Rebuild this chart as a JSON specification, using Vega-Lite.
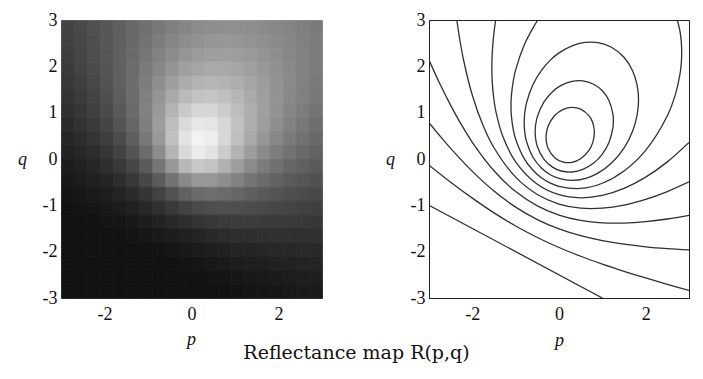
{
 "$schema": "https://vega.github.io/schema/vega-lite/v6.json",
 "padding": {"left": 17, "top": 10, "right": 5, "bottom": 5},
 "background": "white",
 "bounds": "flush",
 "spacing": 107,
 "title": {"text": "Reflectance map R(p,q)", "orient": "bottom", "anchor": "middle", "dx": 3, "offset": -6, "font": "DejaVu Serif", "fontSize": 19, "fontWeight": "normal", "color": "#111"},
 "config": {
  "view": {"stroke": "#222", "strokeWidth": 1},
  "axis": {"labelFont": "Liberation Serif", "labelFontSize": 18, "labelColor": "#111", "titleFont": "Liberation Serif", "titleFontStyle": "italic", "titleFontWeight": "normal", "titleFontSize": 18, "titleColor": "#111", "domainColor": "#222", "grid": false}
 },
 "datasets": {
  "refl": [
{"p":-2.85,"q":2.85,"r":0.345},{"p":-2.55,"q":2.85,"r":0.377},{"p":-2.25,"q":2.85,"r":0.41},{"p":-1.95,"q":2.85,"r":0.444},{"p":-1.65,"q":2.85,"r":0.48},{"p":-1.35,"q":2.85,"r":0.516},{"p":-1.05,"q":2.85,"r":0.551},{"p":-0.75,"q":2.85,"r":0.584},{"p":-0.45,"q":2.85,"r":0.613},{"p":-0.15,"q":2.85,"r":0.637},{"p":0.15,"q":2.85,"r":0.655},{"p":0.45,"q":2.85,"r":0.667},{"p":0.75,"q":2.85,"r":0.672},{"p":1.05,"q":2.85,"r":0.671},{"p":1.35,"q":2.85,"r":0.665},{"p":1.65,"q":2.85,"r":0.655},{"p":1.95,"q":2.85,"r":0.642},{"p":2.25,"q":2.85,"r":0.628},{"p":2.55,"q":2.85,"r":0.612},{"p":2.85,"q":2.85,"r":0.596},
{"p":-2.85,"q":2.55,"r":0.335},{"p":-2.55,"q":2.55,"r":0.368},{"p":-2.25,"q":2.55,"r":0.404},{"p":-1.95,"q":2.55,"r":0.443},{"p":-1.65,"q":2.55,"r":0.482},{"p":-1.35,"q":2.55,"r":0.523},{"p":-1.05,"q":2.55,"r":0.563},{"p":-0.75,"q":2.55,"r":0.601},{"p":-0.45,"q":2.55,"r":0.635},{"p":-0.15,"q":2.55,"r":0.662},{"p":0.15,"q":2.55,"r":0.682},{"p":0.45,"q":2.55,"r":0.694},{"p":0.75,"q":2.55,"r":0.698},{"p":1.05,"q":2.55,"r":0.694},{"p":1.35,"q":2.55,"r":0.685},{"p":1.65,"q":2.55,"r":0.671},{"p":1.95,"q":2.55,"r":0.654},{"p":2.25,"q":2.55,"r":0.636},{"p":2.55,"q":2.55,"r":0.617},{"p":2.85,"q":2.55,"r":0.598},
{"p":-2.85,"q":2.25,"r":0.322},{"p":-2.55,"q":2.25,"r":0.358},{"p":-2.25,"q":2.25,"r":0.397},{"p":-1.95,"q":2.25,"r":0.439},{"p":-1.65,"q":2.25,"r":0.484},{"p":-1.35,"q":2.25,"r":0.53},{"p":-1.05,"q":2.25,"r":0.576},{"p":-0.75,"q":2.25,"r":0.621},{"p":-0.45,"q":2.25,"r":0.66},{"p":-0.15,"q":2.25,"r":0.692},{"p":0.15,"q":2.25,"r":0.714},{"p":0.45,"q":2.25,"r":0.726},{"p":0.75,"q":2.25,"r":0.727},{"p":1.05,"q":2.25,"r":0.72},{"p":1.35,"q":2.25,"r":0.705},{"p":1.65,"q":2.25,"r":0.687},{"p":1.95,"q":2.25,"r":0.666},{"p":2.25,"q":2.25,"r":0.643},{"p":2.55,"q":2.25,"r":0.621},{"p":2.85,"q":2.25,"r":0.599},
{"p":-2.85,"q":1.95,"r":0.307},{"p":-2.55,"q":1.95,"r":0.345},{"p":-2.25,"q":1.95,"r":0.387},{"p":-1.95,"q":1.95,"r":0.433},{"p":-1.65,"q":1.95,"r":0.483},{"p":-1.35,"q":1.95,"r":0.536},{"p":-1.05,"q":1.95,"r":0.59},{"p":-0.75,"q":1.95,"r":0.642},{"p":-0.45,"q":1.95,"r":0.69},{"p":-0.15,"q":1.95,"r":0.727},{"p":0.15,"q":1.95,"r":0.752},{"p":0.45,"q":1.95,"r":0.763},{"p":0.75,"q":1.95,"r":0.761},{"p":1.05,"q":1.95,"r":0.748},{"p":1.35,"q":1.95,"r":0.727},{"p":1.65,"q":1.95,"r":0.702},{"p":1.95,"q":1.95,"r":0.675},{"p":2.25,"q":1.95,"r":0.648},{"p":2.55,"q":1.95,"r":0.622},{"p":2.85,"q":1.95,"r":0.597},
{"p":-2.85,"q":1.65,"r":0.289},{"p":-2.55,"q":1.65,"r":0.328},{"p":-2.25,"q":1.65,"r":0.373},{"p":-1.95,"q":1.65,"r":0.423},{"p":-1.65,"q":1.65,"r":0.478},{"p":-1.35,"q":1.65,"r":0.539},{"p":-1.05,"q":1.65,"r":0.603},{"p":-0.75,"q":1.65,"r":0.666},{"p":-0.45,"q":1.65,"r":0.723},{"p":-0.15,"q":1.65,"r":0.769},{"p":0.15,"q":1.65,"r":0.797},{"p":0.45,"q":1.65,"r":0.806},{"p":0.75,"q":1.65,"r":0.798},{"p":1.05,"q":1.65,"r":0.777},{"p":1.35,"q":1.65,"r":0.748},{"p":1.65,"q":1.65,"r":0.716},{"p":1.95,"q":1.65,"r":0.682},{"p":2.25,"q":1.65,"r":0.65},{"p":2.55,"q":1.65,"r":0.62},{"p":2.85,"q":1.65,"r":0.591},
{"p":-2.85,"q":1.35,"r":0.268},{"p":-2.55,"q":1.35,"r":0.308},{"p":-2.25,"q":1.35,"r":0.354},{"p":-1.95,"q":1.35,"r":0.408},{"p":-1.65,"q":1.35,"r":0.469},{"p":-1.35,"q":1.35,"r":0.538},{"p":-1.05,"q":1.35,"r":0.613},{"p":-0.75,"q":1.35,"r":0.69},{"p":-0.45,"q":1.35,"r":0.761},{"p":-0.15,"q":1.35,"r":0.817},{"p":0.15,"q":1.35,"r":0.85},{"p":0.45,"q":1.35,"r":0.856},{"p":0.75,"q":1.35,"r":0.839},{"p":1.05,"q":1.35,"r":0.806},{"p":1.35,"q":1.35,"r":0.767},{"p":1.65,"q":1.35,"r":0.725},{"p":1.95,"q":1.35,"r":0.685},{"p":2.25,"q":1.35,"r":0.647},{"p":2.55,"q":1.35,"r":0.613},{"p":2.85,"q":1.35,"r":0.582},
{"p":-2.85,"q":1.05,"r":0.243},{"p":-2.55,"q":1.05,"r":0.283},{"p":-2.25,"q":1.05,"r":0.331},{"p":-1.95,"q":1.05,"r":0.387},{"p":-1.65,"q":1.05,"r":0.453},{"p":-1.35,"q":1.05,"r":0.53},{"p":-1.05,"q":1.05,"r":0.617},{"p":-0.75,"q":1.05,"r":0.71},{"p":-0.45,"q":1.05,"r":0.8},{"p":-0.15,"q":1.05,"r":0.871},{"p":0.15,"q":1.05,"r":0.908},{"p":0.45,"q":1.05,"r":0.908},{"p":0.75,"q":1.05,"r":0.878},{"p":1.05,"q":1.05,"r":0.831},{"p":1.35,"q":1.05,"r":0.779},{"p":1.65,"q":1.05,"r":0.727},{"p":1.95,"q":1.05,"r":0.68},{"p":2.25,"q":1.05,"r":0.638},{"p":2.55,"q":1.05,"r":0.601},{"p":2.85,"q":1.05,"r":0.568},
{"p":-2.85,"q":0.75,"r":0.214},{"p":-2.55,"q":0.75,"r":0.254},{"p":-2.25,"q":0.75,"r":0.301},{"p":-1.95,"q":0.75,"r":0.359},{"p":-1.65,"q":0.75,"r":0.428},{"p":-1.35,"q":0.75,"r":0.511},{"p":-1.05,"q":0.75,"r":0.61},{"p":-0.75,"q":0.75,"r":0.72},{"p":-0.45,"q":0.75,"r":0.832},{"p":-0.15,"q":0.75,"r":0.921},{"p":0.15,"q":0.75,"r":0.964},{"p":0.45,"q":0.75,"r":0.955},{"p":0.75,"q":0.75,"r":0.908},{"p":1.05,"q":0.75,"r":0.844},{"p":1.35,"q":0.75,"r":0.779},{"p":1.65,"q":0.75,"r":0.719},{"p":1.95,"q":0.75,"r":0.666},{"p":2.25,"q":0.75,"r":0.621},{"p":2.55,"q":0.75,"r":0.582},{"p":2.85,"q":0.75,"r":0.548},
{"p":-2.85,"q":0.45,"r":0.182},{"p":-2.55,"q":0.45,"r":0.22},{"p":-2.25,"q":0.45,"r":0.266},{"p":-1.95,"q":0.45,"r":0.322},{"p":-1.65,"q":0.45,"r":0.392},{"p":-1.35,"q":0.45,"r":0.478},{"p":-1.05,"q":0.45,"r":0.583},{"p":-0.75,"q":0.45,"r":0.708},{"p":-0.45,"q":0.45,"r":0.84},{"p":-0.15,"q":0.45,"r":0.949},{"p":0.15,"q":0.45,"r":0.998},{"p":0.45,"q":0.45,"r":0.978},{"p":0.75,"q":0.45,"r":0.914},{"p":1.05,"q":0.45,"r":0.836},{"p":1.35,"q":0.45,"r":0.761},{"p":1.65,"q":0.45,"r":0.696},{"p":1.95,"q":0.45,"r":0.641},{"p":2.25,"q":0.45,"r":0.594},{"p":2.55,"q":0.45,"r":0.556},{"p":2.85,"q":0.45,"r":0.523},
{"p":-2.85,"q":0.15,"r":0.148},{"p":-2.55,"q":0.15,"r":0.183},{"p":-2.25,"q":0.15,"r":0.226},{"p":-1.95,"q":0.15,"r":0.278},{"p":-1.65,"q":0.15,"r":0.344},{"p":-1.35,"q":0.15,"r":0.428},{"p":-1.05,"q":0.15,"r":0.532},{"p":-0.75,"q":0.15,"r":0.66},{"p":-0.45,"q":0.15,"r":0.8},{"p":-0.15,"q":0.15,"r":0.92},{"p":0.15,"q":0.15,"r":0.973},{"p":0.45,"q":0.15,"r":0.949},{"p":0.75,"q":0.15,"r":0.877},{"p":1.05,"q":0.15,"r":0.795},{"p":1.35,"q":0.15,"r":0.72},{"p":1.65,"q":0.15,"r":0.656},{"p":1.95,"q":0.15,"r":0.603},{"p":2.25,"q":0.15,"r":0.559},{"p":2.55,"q":0.15,"r":0.522},{"p":2.85,"q":0.15,"r":0.492},
{"p":-2.85,"q":-0.15,"r":0.112},{"p":-2.55,"q":-0.15,"r":0.143},{"p":-2.25,"q":-0.15,"r":0.181},{"p":-1.95,"q":-0.15,"r":0.229},{"p":-1.65,"q":-0.15,"r":0.288},{"p":-1.35,"q":-0.15,"r":0.363},{"p":-1.05,"q":-0.15,"r":0.457},{"p":-0.75,"q":-0.15,"r":0.573},{"p":-0.45,"q":-0.15,"r":0.701},{"p":-0.15,"q":-0.15,"r":0.813},{"p":0.15,"q":-0.15,"r":0.866},{"p":0.45,"q":-0.15,"r":0.85},{"p":0.75,"q":-0.15,"r":0.79},{"p":1.05,"q":-0.15,"r":0.72},{"p":1.35,"q":-0.15,"r":0.655},{"p":1.65,"q":-0.15,"r":0.599},{"p":1.95,"q":-0.15,"r":0.553},{"p":2.25,"q":-0.15,"r":0.514},{"p":2.55,"q":-0.15,"r":0.483},{"p":2.85,"q":-0.15,"r":0.456},
{"p":-2.85,"q":-0.45,"r":0.075},{"p":-2.55,"q":-0.45,"r":0.102},{"p":-2.25,"q":-0.45,"r":0.135},{"p":-1.95,"q":-0.45,"r":0.175},{"p":-1.65,"q":-0.45,"r":0.226},{"p":-1.35,"q":-0.45,"r":0.289},{"p":-1.05,"q":-0.45,"r":0.367},{"p":-0.75,"q":-0.45,"r":0.46},{"p":-0.45,"q":-0.45,"r":0.562},{"p":-0.15,"q":-0.45,"r":0.652},{"p":0.15,"q":-0.45,"r":0.701},{"p":0.45,"q":-0.45,"r":0.701},{"p":0.75,"q":-0.45,"r":0.667},{"p":1.05,"q":-0.45,"r":0.619},{"p":1.35,"q":-0.45,"r":0.572},{"p":1.65,"q":-0.45,"r":0.53},{"p":1.95,"q":-0.45,"r":0.494},{"p":2.25,"q":-0.45,"r":0.463},{"p":2.55,"q":-0.45,"r":0.437},{"p":2.85,"q":-0.45,"r":0.416},
{"p":-2.85,"q":-0.75,"r":0.038},{"p":-2.55,"q":-0.75,"r":0.061},{"p":-2.25,"q":-0.75,"r":0.089},{"p":-1.95,"q":-0.75,"r":0.122},{"p":-1.65,"q":-0.75,"r":0.163},{"p":-1.35,"q":-0.75,"r":0.213},{"p":-1.05,"q":-0.75,"r":0.274},{"p":-0.75,"q":-0.75,"r":0.344},{"p":-0.45,"q":-0.75,"r":0.419},{"p":-0.15,"q":-0.75,"r":0.486},{"p":0.15,"q":-0.75,"r":0.529},{"p":0.45,"q":-0.75,"r":0.543},{"p":0.75,"q":-0.75,"r":0.532},{"p":1.05,"q":-0.75,"r":0.509},{"p":1.35,"q":-0.75,"r":0.481},{"p":1.65,"q":-0.75,"r":0.454},{"p":1.95,"q":-0.75,"r":0.43},{"p":2.25,"q":-0.75,"r":0.408},{"p":2.55,"q":-0.75,"r":0.389},{"p":2.85,"q":-0.75,"r":0.372},
{"p":-2.85,"q":-1.05,"r":0.003},{"p":-2.55,"q":-1.05,"r":0.022},{"p":-2.25,"q":-1.05,"r":0.044},{"p":-1.95,"q":-1.05,"r":0.071},{"p":-1.65,"q":-1.05,"r":0.104},{"p":-1.35,"q":-1.05,"r":0.143},{"p":-1.05,"q":-1.05,"r":0.189},{"p":-0.75,"q":-1.05,"r":0.24},{"p":-0.45,"q":-1.05,"r":0.295},{"p":-0.15,"q":-1.05,"r":0.344},{"p":0.15,"q":-1.05,"r":0.382},{"p":0.45,"q":-1.05,"r":0.403},{"p":0.75,"q":-1.05,"r":0.408},{"p":1.05,"q":-1.05,"r":0.403},{"p":1.35,"q":-1.05,"r":0.392},{"p":1.65,"q":-1.05,"r":0.378},{"p":1.95,"q":-1.05,"r":0.364},{"p":2.25,"q":-1.05,"r":0.351},{"p":2.55,"q":-1.05,"r":0.339},{"p":2.85,"q":-1.05,"r":0.328},
{"p":-2.85,"q":-1.35,"r":0},{"p":-2.55,"q":-1.35,"r":0},{"p":-2.25,"q":-1.35,"r":0.003},{"p":-1.95,"q":-1.35,"r":0.025},{"p":-1.65,"q":-1.35,"r":0.05},{"p":-1.35,"q":-1.35,"r":0.08},{"p":-1.05,"q":-1.35,"r":0.115},{"p":-0.75,"q":-1.35,"r":0.154},{"p":-0.45,"q":-1.35,"r":0.194},{"p":-0.15,"q":-1.35,"r":0.233},{"p":0.15,"q":-1.35,"r":0.265},{"p":0.45,"q":-1.35,"r":0.289},{"p":0.75,"q":-1.35,"r":0.303},{"p":1.05,"q":-1.35,"r":0.309},{"p":1.35,"q":-1.35,"r":0.309},{"p":1.65,"q":-1.35,"r":0.306},{"p":1.95,"q":-1.35,"r":0.301},{"p":2.25,"q":-1.35,"r":0.296},{"p":2.55,"q":-1.35,"r":0.29},{"p":2.85,"q":-1.35,"r":0.284},
{"p":-2.85,"q":-1.65,"r":0},{"p":-2.55,"q":-1.65,"r":0},{"p":-2.25,"q":-1.65,"r":0},{"p":-1.95,"q":-1.65,"r":0},{"p":-1.65,"q":-1.65,"r":0.004},{"p":-1.35,"q":-1.65,"r":0.027},{"p":-1.05,"q":-1.65,"r":0.054},{"p":-0.75,"q":-1.65,"r":0.084},{"p":-0.45,"q":-1.65,"r":0.115},{"p":-0.15,"q":-1.65,"r":0.146},{"p":0.15,"q":-1.65,"r":0.175},{"p":0.45,"q":-1.65,"r":0.198},{"p":0.75,"q":-1.65,"r":0.216},{"p":1.05,"q":-1.65,"r":0.229},{"p":1.35,"q":-1.65,"r":0.236},{"p":1.65,"q":-1.65,"r":0.241},{"p":1.95,"q":-1.65,"r":0.243},{"p":2.25,"q":-1.65,"r":0.243},{"p":2.55,"q":-1.65,"r":0.243},{"p":2.85,"q":-1.65,"r":0.241},
{"p":-2.85,"q":-1.95,"r":0},{"p":-2.55,"q":-1.95,"r":0},{"p":-2.25,"q":-1.95,"r":0},{"p":-1.95,"q":-1.95,"r":0},{"p":-1.65,"q":-1.95,"r":0},{"p":-1.35,"q":-1.95,"r":0},{"p":-1.05,"q":-1.95,"r":0.004},{"p":-0.75,"q":-1.95,"r":0.028},{"p":-0.45,"q":-1.95,"r":0.053},{"p":-0.15,"q":-1.95,"r":0.079},{"p":0.15,"q":-1.95,"r":0.104},{"p":0.45,"q":-1.95,"r":0.127},{"p":0.75,"q":-1.95,"r":0.146},{"p":1.05,"q":-1.95,"r":0.162},{"p":1.35,"q":-1.95,"r":0.174},{"p":1.65,"q":-1.95,"r":0.183},{"p":1.95,"q":-1.95,"r":0.19},{"p":2.25,"q":-1.95,"r":0.195},{"p":2.55,"q":-1.95,"r":0.198},{"p":2.85,"q":-1.95,"r":0.201},
{"p":-2.85,"q":-2.25,"r":0},{"p":-2.55,"q":-2.25,"r":0},{"p":-2.25,"q":-2.25,"r":0},{"p":-1.95,"q":-2.25,"r":0},{"p":-1.65,"q":-2.25,"r":0},{"p":-1.35,"q":-2.25,"r":0},{"p":-1.05,"q":-2.25,"r":0},{"p":-0.75,"q":-2.25,"r":0},{"p":-0.45,"q":-2.25,"r":0.004},{"p":-0.15,"q":-2.25,"r":0.026},{"p":0.15,"q":-2.25,"r":0.048},{"p":0.45,"q":-2.25,"r":0.069},{"p":0.75,"q":-2.25,"r":0.089},{"p":1.05,"q":-2.25,"r":0.106},{"p":1.35,"q":-2.25,"r":0.12},{"p":1.65,"q":-2.25,"r":0.132},{"p":1.95,"q":-2.25,"r":0.142},{"p":2.25,"q":-2.25,"r":0.151},{"p":2.55,"q":-2.25,"r":0.157},{"p":2.85,"q":-2.25,"r":0.162},
{"p":-2.85,"q":-2.55,"r":0},{"p":-2.55,"q":-2.55,"r":0},{"p":-2.25,"q":-2.55,"r":0},{"p":-1.95,"q":-2.55,"r":0},{"p":-1.65,"q":-2.55,"r":0},{"p":-1.35,"q":-2.55,"r":0},{"p":-1.05,"q":-2.55,"r":0},{"p":-0.75,"q":-2.55,"r":0},{"p":-0.45,"q":-2.55,"r":0},{"p":-0.15,"q":-2.55,"r":0},{"p":0.15,"q":-2.55,"r":0.003},{"p":0.45,"q":-2.55,"r":0.023},{"p":0.75,"q":-2.55,"r":0.042},{"p":1.05,"q":-2.55,"r":0.059},{"p":1.35,"q":-2.55,"r":0.075},{"p":1.65,"q":-2.55,"r":0.089},{"p":1.95,"q":-2.55,"r":0.1},{"p":2.25,"q":-2.55,"r":0.111},{"p":2.55,"q":-2.55,"r":0.12},{"p":2.85,"q":-2.55,"r":0.127},
{"p":-2.85,"q":-2.85,"r":0},{"p":-2.55,"q":-2.85,"r":0},{"p":-2.25,"q":-2.85,"r":0},{"p":-1.95,"q":-2.85,"r":0},{"p":-1.65,"q":-2.85,"r":0},{"p":-1.35,"q":-2.85,"r":0},{"p":-1.05,"q":-2.85,"r":0},{"p":-0.75,"q":-2.85,"r":0},{"p":-0.45,"q":-2.85,"r":0},{"p":-0.15,"q":-2.85,"r":0},{"p":0.15,"q":-2.85,"r":0},{"p":0.45,"q":-2.85,"r":0},{"p":0.75,"q":-2.85,"r":0.003},{"p":1.05,"q":-2.85,"r":0.02},{"p":1.35,"q":-2.85,"r":0.036},{"p":1.65,"q":-2.85,"r":0.05},{"p":1.95,"q":-2.85,"r":0.063},{"p":2.25,"q":-2.85,"r":0.075},{"p":2.55,"q":-2.85,"r":0.085},{"p":2.85,"q":-2.85,"r":0.095}
  ],
  "contours": [
{"level":0,"i":0,"p":-3,"q":-1},{"level":0,"i":1,"p":1,"q":-3},
{"level":0.1,"i":0,"p":-3,"q":-0.133},{"level":0.1,"i":1,"p":-2.5,"q":-0.5},{"level":0.1,"i":2,"p":-2,"q":-0.845},{"level":0.1,"i":3,"p":-1.5,"q":-1.163},{"level":0.1,"i":4,"p":-1,"q":-1.446},{"level":0.1,"i":5,"p":-0.5,"q":-1.694},{"level":0.1,"i":6,"p":0,"q":-1.91},{"level":0.1,"i":7,"p":0.5,"q":-2.099},{"level":0.1,"i":8,"p":1,"q":-2.268},{"level":0.1,"i":9,"p":1.5,"q":-2.423},{"level":0.1,"i":10,"p":2,"q":-2.568},{"level":0.1,"i":11,"p":2.5,"q":-2.705},{"level":0.1,"i":12,"p":3,"q":-2.837},
{"level":0.2,"i":0,"p":-3,"q":0.785},{"level":0.2,"i":1,"p":-2.75,"q":0.501},{"level":0.2,"i":2,"p":-2.5,"q":0.23},{"level":0.2,"i":3,"p":-2,"q":-0.267},{"level":0.2,"i":4,"p":-1.5,"q":-0.692},{"level":0.2,"i":5,"p":-1,"q":-1.039},{"level":0.2,"i":6,"p":-0.5,"q":-1.308},{"level":0.2,"i":7,"p":0,"q":-1.509},{"level":0.2,"i":8,"p":0.5,"q":-1.656},{"level":0.2,"i":9,"p":1,"q":-1.762},{"level":0.2,"i":10,"p":1.5,"q":-1.839},{"level":0.2,"i":11,"p":2,"q":-1.895},{"level":0.2,"i":12,"p":2.5,"q":-1.934},{"level":0.2,"i":13,"p":3,"q":-1.962},
{"level":0.3,"i":0,"p":-3,"q":2.135},{"level":0.3,"i":1,"p":-2.75,"q":1.625},{"level":0.3,"i":2,"p":-2.5,"q":1.158},{"level":0.3,"i":3,"p":-2.25,"q":0.737},{"level":0.3,"i":4,"p":-2,"q":0.361},{"level":0.3,"i":5,"p":-1.5,"q":-0.254},{"level":0.3,"i":6,"p":-1,"q":-0.703},{"level":0.3,"i":7,"p":-0.5,"q":-1.011},{"level":0.3,"i":8,"p":0,"q":-1.21},{"level":0.3,"i":9,"p":0.5,"q":-1.325},{"level":0.3,"i":10,"p":1,"q":-1.378},{"level":0.3,"i":11,"p":1.5,"q":-1.383},{"level":0.3,"i":12,"p":2,"q":-1.353},{"level":0.3,"i":13,"p":2.5,"q":-1.295},{"level":0.3,"i":14,"p":3,"q":-1.216},
{"level":0.4,"i":0,"p":-2.358,"q":3},{"level":0.4,"i":1,"p":-2.3,"q":2.635},{"level":0.4,"i":2,"p":-2.2,"q":2.126},{"level":0.4,"i":3,"p":-2,"q":1.376},{"level":0.4,"i":4,"p":-1.75,"q":0.719},{"level":0.4,"i":5,"p":-1.5,"q":0.243},{"level":0.4,"i":6,"p":-1,"q":-0.392},{"level":0.4,"i":7,"p":-0.5,"q":-0.766},{"level":0.4,"i":8,"p":0,"q":-0.972},{"level":0.4,"i":9,"p":0.5,"q":-1.061},{"level":0.4,"i":10,"p":1,"q":-1.062},{"level":0.4,"i":11,"p":1.5,"q":-0.995},{"level":0.4,"i":12,"p":2,"q":-0.871},{"level":0.4,"i":13,"p":2.5,"q":-0.702},{"level":0.4,"i":14,"p":3,"q":-0.494},
{"level":0.5,"i":0,"p":-1.461,"q":3},{"level":0.5,"i":1,"p":-1.5,"q":2.732},{"level":0.5,"i":2,"p":-1.54,"q":2.301},{"level":0.5,"i":3,"p":-1.5496,"q":1.972},{"level":0.5,"i":4,"p":-1.54,"q":1.654},{"level":0.5,"i":5,"p":-1.5,"q":1.268},{"level":0.5,"i":6,"p":-1.45,"q":0.995},{"level":0.5,"i":7,"p":-1.3,"q":0.497},{"level":0.5,"i":8,"p":-1,"q":-0.062},{"level":0.5,"i":9,"p":-0.5,"q":-0.546},{"level":0.5,"i":10,"p":0,"q":-0.771},{"level":0.5,"i":11,"p":0.5,"q":-0.837},{"level":0.5,"i":12,"p":1,"q":-0.785},{"level":0.5,"i":13,"p":1.5,"q":-0.634},{"level":0.5,"i":14,"p":2,"q":-0.392},{"level":0.5,"i":15,"p":2.5,"q":-0.062},{"level":0.5,"i":16,"p":3,"q":0.358},
{"level":0.6,"i":0,"p":-0.487,"q":3},{"level":0.6,"i":1,"p":-0.6,"q":2.831},{"level":0.6,"i":2,"p":-0.8,"q":2.466},{"level":0.6,"i":3,"p":-1,"q":1.925},{"level":0.6,"i":4,"p":-1.05,"q":1.714},{"level":0.6,"i":5,"p":-1.1,"q":1.353},{"level":0.6,"i":6,"p":-1.108,"q":1.145},{"level":0.6,"i":7,"p":-1.1,"q":0.941},{"level":0.6,"i":8,"p":-1.05,"q":0.61},{"level":0.6,"i":9,"p":-1,"q":0.428},{"level":0.6,"i":10,"p":-0.8,"q":0.004},{"level":0.6,"i":11,"p":-0.6,"q":-0.243},{"level":0.6,"i":12,"p":-0.4,"q":-0.408},{"level":0.6,"i":13,"p":-0.2,"q":-0.519},{"level":0.6,"i":14,"p":0,"q":-0.591},{"level":0.6,"i":15,"p":0.5,"q":-0.636},{"level":0.6,"i":16,"p":1,"q":-0.523},{"level":0.6,"i":17,"p":1.5,"q":-0.258},{"level":0.6,"i":18,"p":2,"q":0.187},{"level":0.6,"i":19,"p":2.5,"q":0.932},{"level":0.6,"i":20,"p":2.7,"q":1.439},{"level":0.6,"i":21,"p":2.79,"q":1.82},{"level":0.6,"i":22,"p":2.82,"q":2.046},{"level":0.6,"i":23,"p":2.832,"q":2.304},{"level":0.6,"i":24,"p":2.82,"q":2.554},{"level":0.6,"i":25,"p":2.79,"q":2.763},{"level":0.6,"i":26,"p":2.731,"q":3},
{"level":0.7,"i":0,"p":-0.8036,"q":0.784},{"level":0.7,"i":1,"p":-0.79,"q":0.998},{"level":0.7,"i":2,"p":-0.75,"q":1.21},{"level":0.7,"i":3,"p":-0.6,"q":1.608},{"level":0.7,"i":4,"p":-0.4,"q":1.92},{"level":0.7,"i":5,"p":-0.2,"q":2.134},{"level":0.7,"i":6,"p":0,"q":2.29},{"level":0.7,"i":7,"p":0.3,"q":2.443},{"level":0.7,"i":8,"p":0.6,"q":2.516},{"level":0.7,"i":9,"p":0.9,"q":2.511},{"level":0.7,"i":10,"p":1.2,"q":2.417},{"level":0.7,"i":11,"p":1.5,"q":2.195},{"level":0.7,"i":12,"p":1.7,"q":1.9},{"level":0.7,"i":13,"p":1.8,"q":1.606},{"level":0.7,"i":14,"p":1.83,"q":1.399},{"level":0.7,"i":15,"p":1.8345,"q":1.278},{"level":0.7,"i":16,"p":1.83,"q":1.154},{"level":0.7,"i":17,"p":1.8,"q":0.936},{"level":0.7,"i":18,"p":1.7,"q":0.605},{"level":0.7,"i":19,"p":1.5,"q":0.235},{"level":0.7,"i":20,"p":1.2,"q":-0.099},{"level":0.7,"i":21,"p":0.9,"q":-0.305},{"level":0.7,"i":22,"p":0.6,"q":-0.422},{"level":0.7,"i":23,"p":0.3,"q":-0.462},{"level":0.7,"i":24,"p":0,"q":-0.42},{"level":0.7,"i":25,"p":-0.2,"q":-0.34},{"level":0.7,"i":26,"p":-0.4,"q":-0.2},{"level":0.7,"i":27,"p":-0.6,"q":0.037},{"level":0.7,"i":28,"p":-0.75,"q":0.379},{"level":0.7,"i":29,"p":-0.79,"q":0.576},{"level":0.7,"i":30,"p":-0.8036,"q":0.784},
{"level":0.8,"i":0,"p":-0.5502,"q":0.586},{"level":0.8,"i":1,"p":-0.54,"q":0.734},{"level":0.8,"i":2,"p":-0.5,"q":0.914},{"level":0.8,"i":3,"p":-0.35,"q":1.228},{"level":0.8,"i":4,"p":-0.15,"q":1.453},{"level":0.8,"i":5,"p":0.05,"q":1.588},{"level":0.8,"i":6,"p":0.3,"q":1.676},{"level":0.8,"i":7,"p":0.55,"q":1.687},{"level":0.8,"i":8,"p":0.8,"q":1.614},{"level":0.8,"i":9,"p":1,"q":1.472},{"level":0.8,"i":10,"p":1.15,"q":1.267},{"level":0.8,"i":11,"p":1.245,"q":0.963},{"level":0.8,"i":12,"p":1.2544,"q":0.823},{"level":0.8,"i":13,"p":1.245,"q":0.681},{"level":0.8,"i":14,"p":1.15,"q":0.352},{"level":0.8,"i":15,"p":1,"q":0.107},{"level":0.8,"i":16,"p":0.8,"q":-0.088},{"level":0.8,"i":17,"p":0.55,"q":-0.226},{"level":0.8,"i":18,"p":0.3,"q":-0.281},{"level":0.8,"i":19,"p":0.05,"q":-0.259},{"level":0.8,"i":20,"p":-0.15,"q":-0.176},{"level":0.8,"i":21,"p":-0.35,"q":-0.004},{"level":0.8,"i":22,"p":-0.5,"q":0.27},{"level":0.8,"i":23,"p":-0.54,"q":0.44},{"level":0.8,"i":24,"p":-0.5502,"q":0.586},
{"level":0.9,"i":0,"p":-0.2983,"q":0.463},{"level":0.9,"i":1,"p":-0.29,"q":0.566},{"level":0.9,"i":2,"p":-0.25,"q":0.71},{"level":0.9,"i":3,"p":-0.1,"q":0.938},{"level":0.9,"i":4,"p":0.1,"q":1.072},{"level":0.9,"i":5,"p":0.3,"q":1.115},{"level":0.9,"i":6,"p":0.5,"q":1.078},{"level":0.9,"i":7,"p":0.7,"q":0.925},{"level":0.9,"i":8,"p":0.78,"q":0.781},{"level":0.9,"i":9,"p":0.8164,"q":0.573},{"level":0.9,"i":10,"p":0.78,"q":0.358},{"level":0.9,"i":11,"p":0.7,"q":0.198},{"level":0.9,"i":12,"p":0.5,"q":0.006},{"level":0.9,"i":13,"p":0.3,"q":-0.071},{"level":0.9,"i":14,"p":0.1,"q":-0.067},{"level":0.9,"i":15,"p":-0.1,"q":0.028},{"level":0.9,"i":16,"p":-0.25,"q":0.226},{"level":0.9,"i":17,"p":-0.29,"q":0.362},{"level":0.9,"i":18,"p":-0.2983,"q":0.463}
  ]
 },
 "hconcat": [
  {
   "width": 261,
   "height": 278,
   "view": {"stroke": null},
   "data": {"name": "refl"},
   "mark": {"type": "rect", "binSpacing": 0, "strokeWidth": 0.8},
   "encoding": {
    "x": {"field": "p", "type": "quantitative", "bin": {"step": 0.3, "extent": [-3, 3], "nice": false}, "scale": {"domain": [-3, 3], "nice": false, "zero": false},
          "axis": {"values": [-2, 0, 2], "labelExpr": "'' + datum.value", "labelFont": "Liberation Serif", "labelFontSize": 18, "ticks": false, "title": "p", "labelPadding": 7, "domain": false, "titleX": 130, "titleY": 41, "titleAlign": "center", "titleBaseline": "middle"}},
    "y": {"field": "q", "type": "quantitative", "bin": {"step": 0.3, "extent": [-3, 3], "nice": false}, "scale": {"domain": [-3, 3], "nice": false, "zero": false},
          "axis": {"values": [-3, -2, -1, 0, 1, 2, 3], "labelExpr": "'' + datum.value", "labelFont": "Liberation Serif", "labelFontSize": 18, "ticks": false, "title": "q", "labelPadding": 4, "domain": false, "titleAngle": 0, "titleX": -39, "titleY": 139, "titleAlign": "center", "titleBaseline": "middle"}},
    "color": {"field": "r", "type": "quantitative", "scale": {"type": "pow", "exponent": 1.3, "domain": [0, 1], "range": ["#121212", "#f4f4f4"]}, "legend": null},
    "stroke": {"field": "r", "type": "quantitative", "scale": {"type": "pow", "exponent": 1.3, "domain": [0, 1], "range": ["#121212", "#f4f4f4"]}, "legend": null}
   }
  },
  {
   "width": 260,
   "height": 278,
   "data": {"name": "contours"},
   "mark": {"type": "line", "interpolate": "catmull-rom", "color": "#303030", "strokeWidth": 1.3, "clip": true},
   "encoding": {
    "x": {"field": "p", "type": "quantitative", "scale": {"domain": [-3, 3], "nice": false, "zero": false},
          "axis": {"values": [-2, 0, 2], "labelExpr": "'' + datum.value", "labelFont": "Liberation Serif", "labelFontSize": 18, "ticks": false, "title": "p", "labelPadding": 7, "titleX": 130, "titleY": 42, "titleAlign": "center", "titleBaseline": "middle"}},
    "y": {"field": "q", "type": "quantitative", "scale": {"domain": [-3, 3], "nice": false, "zero": false},
          "axis": {"values": [-3, -2, -1, 0, 1, 2, 3], "labelExpr": "'' + datum.value", "labelFont": "Liberation Serif", "labelFontSize": 18, "ticks": false, "title": "q", "labelPadding": 4, "titleAngle": 0, "titleX": -39, "titleY": 139, "titleAlign": "center", "titleBaseline": "middle"}},
    "detail": {"field": "level", "type": "nominal"},
    "order": {"field": "i", "type": "quantitative"}
   }
  }
 ]
}
